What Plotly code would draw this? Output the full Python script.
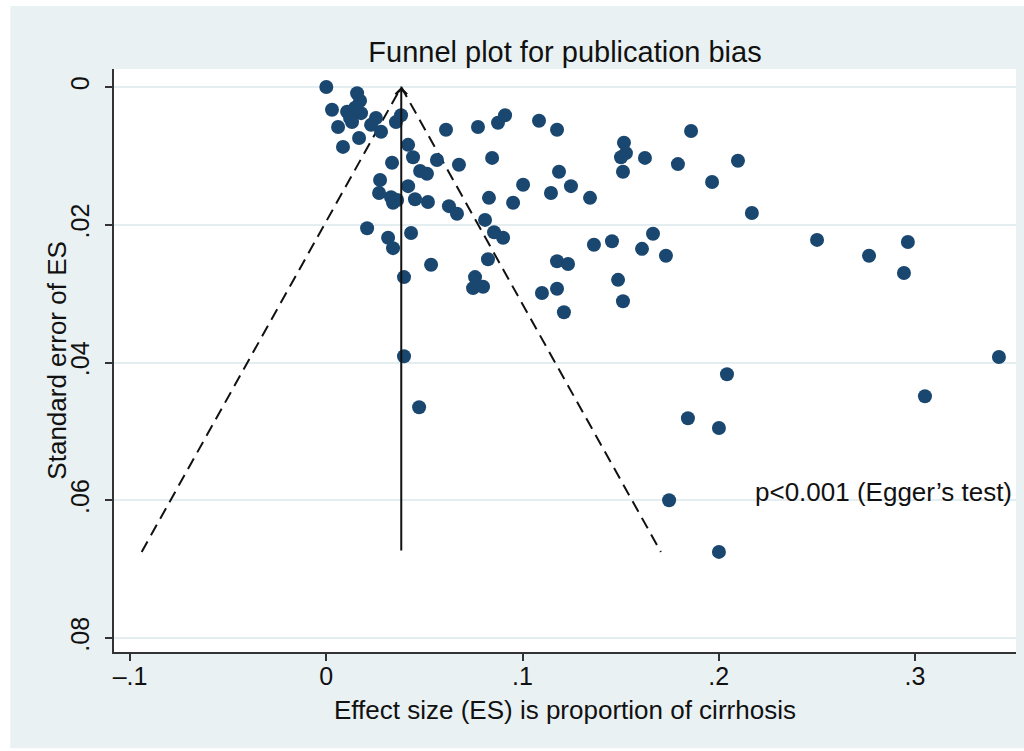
import plotly.graph_objects as go

# Effect size (proportion of cirrhosis) and its standard error
es = [0.0000, 0.0157, 0.0172, 0.0029, 0.0106, 0.0147, 0.0177, 0.0121, 0.0253, 0.0381,
      0.0355, 0.0060, 0.0131, 0.0228, 0.0279, 0.0610, 0.0773, 0.0875, 0.0911, 0.1084,
      0.1176, 0.0167, 0.0085, 0.0417, 0.0442, 0.0335, 0.0564, 0.0676, 0.0845, 0.0478,
      0.0513, 0.0274, 0.0417, 0.0269, 0.0330, 0.0361, 0.0340, 0.0452, 0.0518, 0.0625,
      0.0666, 0.0829, 0.0952, 0.1003, 0.1145, 0.1186, 0.1247, 0.1344, 0.1517, 0.1527,
      0.1502, 0.1512, 0.1624, 0.1792, 0.1859, 0.2098, 0.1966, 0.2169, 0.0809, 0.0855,
      0.0901, 0.0208, 0.0315, 0.0340, 0.0432, 0.0824, 0.0534, 0.0396, 0.0758, 0.0748,
      0.0799, 0.1364, 0.1456, 0.1665, 0.1609, 0.1731, 0.1176, 0.1232, 0.1099, 0.1176,
      0.1211, 0.1487, 0.1512, 0.2501, 0.2766, 0.2964, 0.2944, 0.3428, 0.2042, 0.3051,
      0.1843, 0.2001, 0.1747, 0.2001, 0.0396, 0.0473]
se = [0.0000, 0.0009, 0.0020, 0.0033, 0.0036, 0.0030, 0.0038, 0.0045, 0.0045, 0.0041,
      0.0051, 0.0058, 0.0051, 0.0055, 0.0065, 0.0062, 0.0058, 0.0052, 0.0041, 0.0049,
      0.0062, 0.0074, 0.0087, 0.0084, 0.0102, 0.0110, 0.0106, 0.0113, 0.0103, 0.0122,
      0.0126, 0.0135, 0.0144, 0.0154, 0.0160, 0.0164, 0.0168, 0.0163, 0.0167, 0.0173,
      0.0184, 0.0161, 0.0168, 0.0142, 0.0154, 0.0123, 0.0144, 0.0161, 0.0081, 0.0096,
      0.0102, 0.0123, 0.0103, 0.0112, 0.0064, 0.0107, 0.0138, 0.0183, 0.0193, 0.0211,
      0.0219, 0.0205, 0.0219, 0.0234, 0.0212, 0.0250, 0.0258, 0.0276, 0.0276, 0.0292,
      0.0290, 0.0229, 0.0224, 0.0213, 0.0235, 0.0245, 0.0253, 0.0257, 0.0299, 0.0293,
      0.0327, 0.0280, 0.0311, 0.0222, 0.0245, 0.0225, 0.0270, 0.0392, 0.0417, 0.0449,
      0.0481, 0.0495, 0.0600, 0.0675, 0.0391, 0.0465]

pooled_es = 0.0382
z95 = 1.96

x_tickvals = [-0.1, 0, 0.1, 0.2, 0.3]
x_ticktext = ["\u2013.1", "0", ".1", ".2", ".3"]
y_tickvals = [0, 0.02, 0.04, 0.06, 0.08]
y_ticktext = ["0", ".02", ".04", ".06", ".08"]

title_text = "Funnel plot for publication bias"
x_title = "Effect size (ES) is proportion of cirrhosis"
y_title = "Standard error of ES"
note_text = "p<0.001 (Egger\u2019s test)"

navy = "#1A476F"
bg = "#EAF1F3"
grid = "#E4EEF0"
ink = "#111111"
font = "Liberation Sans, Arial, Helvetica, sans-serif"

se_max = max(se)

fig = go.Figure()

# funnel (pseudo 95% CI) dashed lines
fig.add_trace(go.Scatter(
    x=[pooled_es - z95 * se_max, pooled_es, pooled_es + z95 * se_max],
    y=[se_max, 0, se_max],
    mode="lines", line=dict(color=ink, width=2, dash="12px,7px"),
    hoverinfo="skip", showlegend=False))

fig.add_trace(go.Scatter(
    x=es, y=se, mode="markers",
    marker=dict(color=navy, size=14, line=dict(width=0)),
    showlegend=False))

# pooled estimate line with open arrowhead
fig.add_annotation(
    x=pooled_es, y=0, ax=pooled_es, ay=se_max,
    xref="x", yref="y", axref="x", ayref="y",
    showarrow=True, arrowhead=4, arrowsize=1.1, arrowwidth=2, arrowcolor=ink,
    text="")

fig.add_annotation(
    x=0.2175, y=0.0588, xref="x", yref="y", xanchor="left", yanchor="middle",
    text=note_text, showarrow=False, font=dict(size=26, color=ink, family=font))

# axis titles
fig.add_annotation(
    x=0.5, y=(652 - 710) / 583, xref="paper", yref="paper",
    xanchor="center", yanchor="middle", showarrow=False,
    text=x_title, font=dict(size=26, color=ink, family=font))
fig.add_annotation(
    x=(56 - 114) / 904, y=0.5, xref="paper", yref="paper",
    xanchor="center", yanchor="middle", showarrow=False, textangle=-90,
    text=y_title, font=dict(size=26, color=ink, family=font))

# outer background panel and white plot region
fig.add_shape(type="rect", xref="paper", yref="paper",
              x0=-0.115, x1=1.02, y0=-0.165, y1=1.108,
              fillcolor=bg, line=dict(width=0), layer="below")
fig.add_shape(type="rect", xref="paper", yref="paper",
              x0=0, x1=1, y0=0, y1=1,
              fillcolor="white", line=dict(width=0), layer="below")

fig.update_layout(
    width=1024, height=751,
    margin=dict(l=114, r=8, t=69, b=99),
    paper_bgcolor="white", plot_bgcolor="white",
    font=dict(family=font, size=26, color=ink),
    title=dict(text=title_text, x=0.5, xref="paper", y=1 - 52 / 751, yref="container",
               xanchor="center", yanchor="middle", font=dict(size=29, color=ink)),
    showlegend=False,
)

fig.update_xaxes(
    range=[-0.1082, 0.3515], tickvals=x_tickvals, ticktext=x_ticktext,
    showgrid=False, zeroline=False,
    showline=True, linecolor="#333333", linewidth=1.5,
    ticks="outside", ticklen=7, tickwidth=1.5, tickcolor="#333333",
    ticklabelstandoff=-6, tickfont=dict(size=25),
)
fig.update_yaxes(
    range=[0.08203, -0.00261], tickvals=y_tickvals, ticktext=y_ticktext,
    tickangle=-90,
    showgrid=True, gridcolor=grid, gridwidth=2, zeroline=False,
    showline=True, linecolor="#333333", linewidth=1.5,
    ticks="outside", ticklen=7, tickwidth=1.5, tickcolor="#333333",
    ticklabelstandoff=6, tickfont=dict(size=25),
)

fig.write_html("out.html")
